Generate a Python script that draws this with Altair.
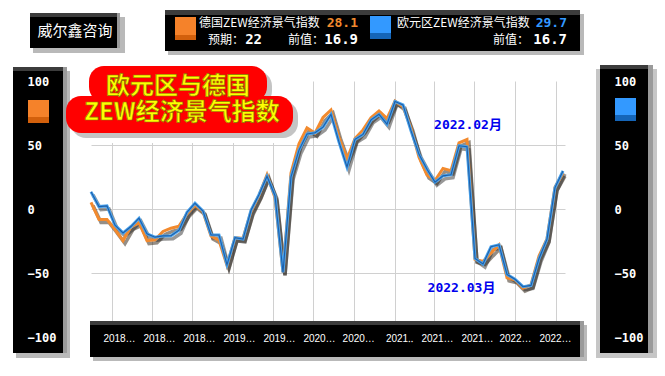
import altair as alt
import pandas as pd
import json

# ---------------- data ----------------
months = [str(p) for p in pd.period_range("2018-03", "2023-02", freq="M")]
de_zew = [5.1, -8.2, -8.2, -16.1, -24.7, -13.7, -10.6, -24.7, -24.1, -17.5,
          -15.0, -13.4, -3.6, 3.1, -2.1, -21.1, -24.5, -44.1, -22.5, -22.8, -2.1, 10.7,
          26.7, 8.7, -49.5, 28.2, 51.0, 63.4, 59.3, 71.5, 77.4, 56.1, 39.0, 55.0,
          61.8, 71.2, 76.6, 70.7, 84.4, 79.8, 63.3, 40.4, 26.5, 22.3, 31.7, 29.9,
          51.7, 54.3, -39.3, -41.0, -34.3, -28.0, -53.8, -55.3, -61.9, -59.2, -36.7, -23.3,
          16.9, 28.1]
ez_zew = [13.4, 1.9, 2.4, -12.6, -18.7, -13.7, -7.2, -19.4, -22.0, -21.0,
          -20.9, -16.6, -2.5, 4.5, -1.6, -20.2, -20.3, -43.6, -22.4, -23.5, -1.0, 11.2,
          25.6, 10.4, -49.5, 25.2, 46.0, 58.6, 59.6, 64.0, 73.9, 52.3, 32.8, 54.4,
          58.3, 69.6, 74.0, 66.3, 84.0, 81.3, 61.2, 42.7, 31.1, 21.0, 25.9, 26.8,
          49.4, 48.6, -38.7, -43.0, -29.5, -28.0, -51.1, -54.9, -60.7, -59.7, -38.7, -23.6,
          16.7, 29.7]
de_expect = 22
series_names = ["德国ZEW经济景气指数", "欧元区ZEW经济景气指数"]
grid_pos = [2.625, 7.625, 12.625, 17.75, 22.75, 27.75, 32.875, 38.0, 42.875, 47.875, 53.0, 58.125]
label_pos = [3.5, 8.5, 13.5, 18.5, 23.5, 28.5, 33.4, 38.5, 43.25, 48.25, 53.0, 58.0]
x_labels = ["2018…", "2018…", "2018…", "2019…", "2019…", "2020…", "2020…",
            "2021‥", "2021…", "2021…", "2022…", "2022…"]
y_ticks = [-100, -50, 0, 50, 100]
y_grid = [-50, 0, 50]
annot_months = ["2022-02", "2022-03"]
brand = "威尔鑫咨询"
title_lines = ["欧元区与德国", "ZEW经济景气指数"]

df = pd.DataFrame({"idx": list(range(len(months))), "month": months,
                   "de": de_zew, "ez": ez_zew})

# ---------------- layout ----------------
W, H = 474, 256
PL, PT = 91, 81
PR = 665 - PL - W
PB = 376 - PT - H

ORANGE = "#F28A2E"
BLUE = "#3399FF"

xs = alt.Scale(domain=[0, 59.25], nice=False, zero=False)
ys = alt.Scale(domain=[-100, 100], nice=False, zero=False)


def rx(v):
    return v - PL


def ry(v):
    return v - PT


grid_x_axis = alt.Axis(orient="bottom", grid=True, labels=False, ticks=False, domain=False,
                       values=grid_pos, gridColor="#d0d0d0", gridWidth=1, title=None, zindex=0)
grid_y_axis = alt.Axis(orient="left", grid=True, labels=False, ticks=False, domain=False,
                       values=y_grid, gridColor="#d0d0d0", gridWidth=1, title=None, zindex=0)
label_expr = f"{json.dumps(x_labels, ensure_ascii=False)}[indexof({json.dumps(label_pos)}, datum.value)]"
label_x_axis = alt.Axis(orient="bottom", grid=False, ticks=False, domain=False, values=label_pos,
                        labelExpr=label_expr, labelColor="white", labelFont="Liberation Sans",
                        labelFontSize=10, labelPadding=1, labelBaseline="middle", labelAngle=0,
                        labelOverlap=False, labelFlush=False, title=None, zindex=1)
left_y_axis = alt.Axis(orient="left", grid=False, ticks=False, domain=False, values=y_ticks,
                       format="d", labelAlign="left", labelPadding=64, labelColor="white",
                       labelFont="DejaVu Sans Mono", labelFontWeight="bold", labelFontSize=12,
                       labelBaseline="middle", labelOverlap=False, labelFlush=False,
                       title=None, zindex=1)
right_y_axis = alt.Axis(orient="right", grid=False, ticks=False, domain=False, values=y_ticks,
                        format="d", labelAlign="left", labelPadding=49, labelColor="white",
                        labelFont="DejaVu Sans Mono", labelFontWeight="bold", labelFontSize=12,
                        labelBaseline="middle", labelOverlap=False, labelFlush=False,
                        title=None, zindex=1)

# ---------------- decorations ----------------
boxes = [
    # brand box
    (33, 17, 125, 53, "#808080", 0.55),
    (30, 13, 120, 48, "#000000", 1),
    (30, 13, 120, 17, "#3c3c3c", 1),
    (117, 13, 120, 48, "#9a9a9a", 1),
    # legend box
    (168, 14, 584, 55, "#808080", 0.55),
    (165, 10, 580, 51, "#000000", 1),
    (165, 10, 580, 15, "#3c3c3c", 1),
    # left axis box
    (16, 71, 70, 358, "#808080", 0.55),
    (13, 67, 63, 353, "#000000", 1),
    (13, 67, 67, 71, "#3c3c3c", 1),
    (63, 67, 67, 353, "#9a9a9a", 1),
    # right axis box
    (596, 69, 657, 358, "#808080", 0.45),
    (600, 65, 648, 353, "#000000", 1),
    (600, 65, 653, 69, "#3c3c3c", 1),
    (648, 65, 653, 353, "#9a9a9a", 1),
    # bottom axis box
    (93, 325, 587, 361, "#808080", 0.55),
    (90, 321, 580, 357, "#000000", 1),
    (90, 321, 584, 325, "#3c3c3c", 1),
    (580, 321, 584, 357, "#9a9a9a", 1),
    # white patch behind title
    (91, 81, 298, 143, "#ffffff", 1),
    # colour squares
    (28, 100, 49, 123, "#F5822A", 1), (28, 117, 49, 123, "#D2600C", 1),
    (615, 98, 636, 121, BLUE, 1), (615, 115, 636, 121, "#1565B8", 1),
    (175, 17, 196, 40, "#F5822A", 1), (175, 35, 196, 40, "#D2600C", 1),
    (370, 16, 391, 39, BLUE, 1), (370, 33, 391, 39, "#1565B8", 1),
]
blob = [
    # title red blob with its soft grey shadow
    (71, 101, 298, 138, "#8a8a8a", 0.5),
    (95, 71, 272, 106, "#8a8a8a", 0.5),
    (89, 66, 267, 102, "#FF0000", 1),
    (66, 96, 293, 133, "#FF0000", 1),
]


def rect_df(rows):
    return pd.DataFrame([{"x": rx(a), "y": ry(b), "x2": rx(c), "y2": ry(d), "c": col, "o": op}
                         for a, b, c, d, col, op in rows])


def rect_enc(ch):
    return ch.encode(
        x=alt.X("x:Q", scale=None, axis=None), x2="x2:Q",
        y=alt.Y("y:Q", scale=None, axis=None), y2="y2:Q",
        color=alt.Color("c:N", scale=None), opacity=alt.Opacity("o:Q", scale=None))


deco_layer = rect_enc(alt.Chart(rect_df(boxes)).mark_rect())
blob_layer = rect_enc(alt.Chart(rect_df(blob)).mark_rect(cornerRadius=15))


def text_layer(rows, **mark):
    d = pd.DataFrame([{"x": rx(a), "y": ry(b), "t": t, "c": c} for a, b, t, c in rows])
    return alt.Chart(d).mark_text(**mark).encode(
        x=alt.X("x:Q", scale=None, axis=None), y=alt.Y("y:Q", scale=None, axis=None),
        text="t:N", color=alt.Color("c:N", scale=None))


# ---------------- lines ----------------
base = alt.Chart(df)
shadow_de = base.mark_line(color="#2b1d0e", strokeWidth=3.5, opacity=0.5, xOffset=2, yOffset=3).encode(
    x=alt.X("idx:Q", scale=xs, axis=grid_x_axis), y=alt.Y("de:Q", scale=ys, axis=grid_y_axis))
shadow_ez = base.mark_line(color="#1a1a1a", strokeWidth=3.5, opacity=0.45, xOffset=2, yOffset=3).encode(
    x=alt.X("idx:Q", scale=xs, axis=None), y=alt.Y("ez:Q", scale=ys, axis=None))
de_line = base.mark_line(color=ORANGE, strokeWidth=3).encode(
    x=alt.X("idx:Q", scale=xs, axis=None), y=alt.Y("de:Q", scale=ys, axis=right_y_axis))
ez_outer = base.mark_line(color="#48A3EE", strokeWidth=3).encode(
    x=alt.X("idx:Q", scale=xs, axis=label_x_axis), y=alt.Y("ez:Q", scale=ys, axis=left_y_axis))
ez_inner = base.mark_line(color="#1F5FA8", strokeWidth=1.1).encode(
    x=alt.X("idx:Q", scale=xs, axis=None), y=alt.Y("ez:Q", scale=ys, axis=None))

# ---------------- annotations ----------------
ann_rows = []
for m in annot_months:
    i = months.index(m)
    ann_rows.append({"idx": i, "v": de_zew[i], "t": m.replace("-", ".") + "月"})
ann_df = pd.DataFrame(ann_rows)
ann_font = dict(font="DejaVu Sans Mono, Noto Sans CJK SC", fontSize=13, fontWeight="bold",
                fill="#0000EE", baseline="middle", align="center")
ann1 = alt.Chart(ann_df.iloc[[0]]).mark_text(dx=1, dy=-14.5, **ann_font).encode(
    x=alt.X("idx:Q", scale=xs, axis=None), y=alt.Y("v:Q", scale=ys, axis=None), text="t:N")
ann2 = alt.Chart(ann_df.iloc[[1]]).mark_text(dx=-13.5, dy=28.7, **ann_font).encode(
    x=alt.X("idx:Q", scale=xs, axis=None), y=alt.Y("v:Q", scale=ys, axis=None), text="t:N")

# ---------------- texts ----------------
title_rows = [(178, 87, title_lines[0], "#FFFF00"), (182, 113, title_lines[1], "#FFFF00")]
title_yel = text_layer(title_rows, font="Noto Sans CJK SC", fontSize=24, fontWeight="bold",
                       align="center", baseline="middle", stroke="#8C7D00", strokeWidth=0.7)

brand_t = text_layer([(75, 31, brand, "white")], font="Noto Sans CJK SC", fontSize=15,
                     align="center", baseline="middle")
names_t = text_layer([(199, 23, series_names[0], "white"), (397, 23, series_names[1], "white")],
                     font="Noto Sans CJK SC", fontSize=12, align="left", baseline="middle")
row2_t = text_layer([(208, 40, "预期：", "white"), (288, 40, "前值：", "white"), (493, 40, "前值：", "white")],
                    font="Noto Sans CJK SC", fontSize=12, align="left", baseline="middle")
val1_t = text_layer([(358, 23, f"{de_zew[-1]:.1f}", ORANGE), (567, 23, f"{ez_zew[-1]:.1f}", BLUE)],
                    font="DejaVu Sans Mono", fontSize=13, fontWeight="bold", align="right",
                    baseline="middle")
val2_t = text_layer([(262, 40, f"{de_expect}", "white"), (358, 40, f"{de_zew[-2]:.1f}", "white"),
                     (567, 40, f"{ez_zew[-2]:.1f}", "white")],
                    font="DejaVu Sans Mono", fontSize=14, fontWeight="bold", align="right",
                    baseline="middle")

chart = alt.layer(
    shadow_de, deco_layer, shadow_ez, de_line, ez_outer, ez_inner,
    ann1, ann2, blob_layer, title_yel, brand_t, names_t, row2_t, val1_t, val2_t
).properties(
    width=W, height=H,
    autosize=alt.AutoSizeParams(type="none"),
    padding={"left": PL, "top": PT, "right": PR, "bottom": PB},
    background="white",
).resolve_axis(x="independent", y="independent").configure_view(stroke=None)

chart.save("out.html", embed_options={"renderer": "svg", "actions": False})
